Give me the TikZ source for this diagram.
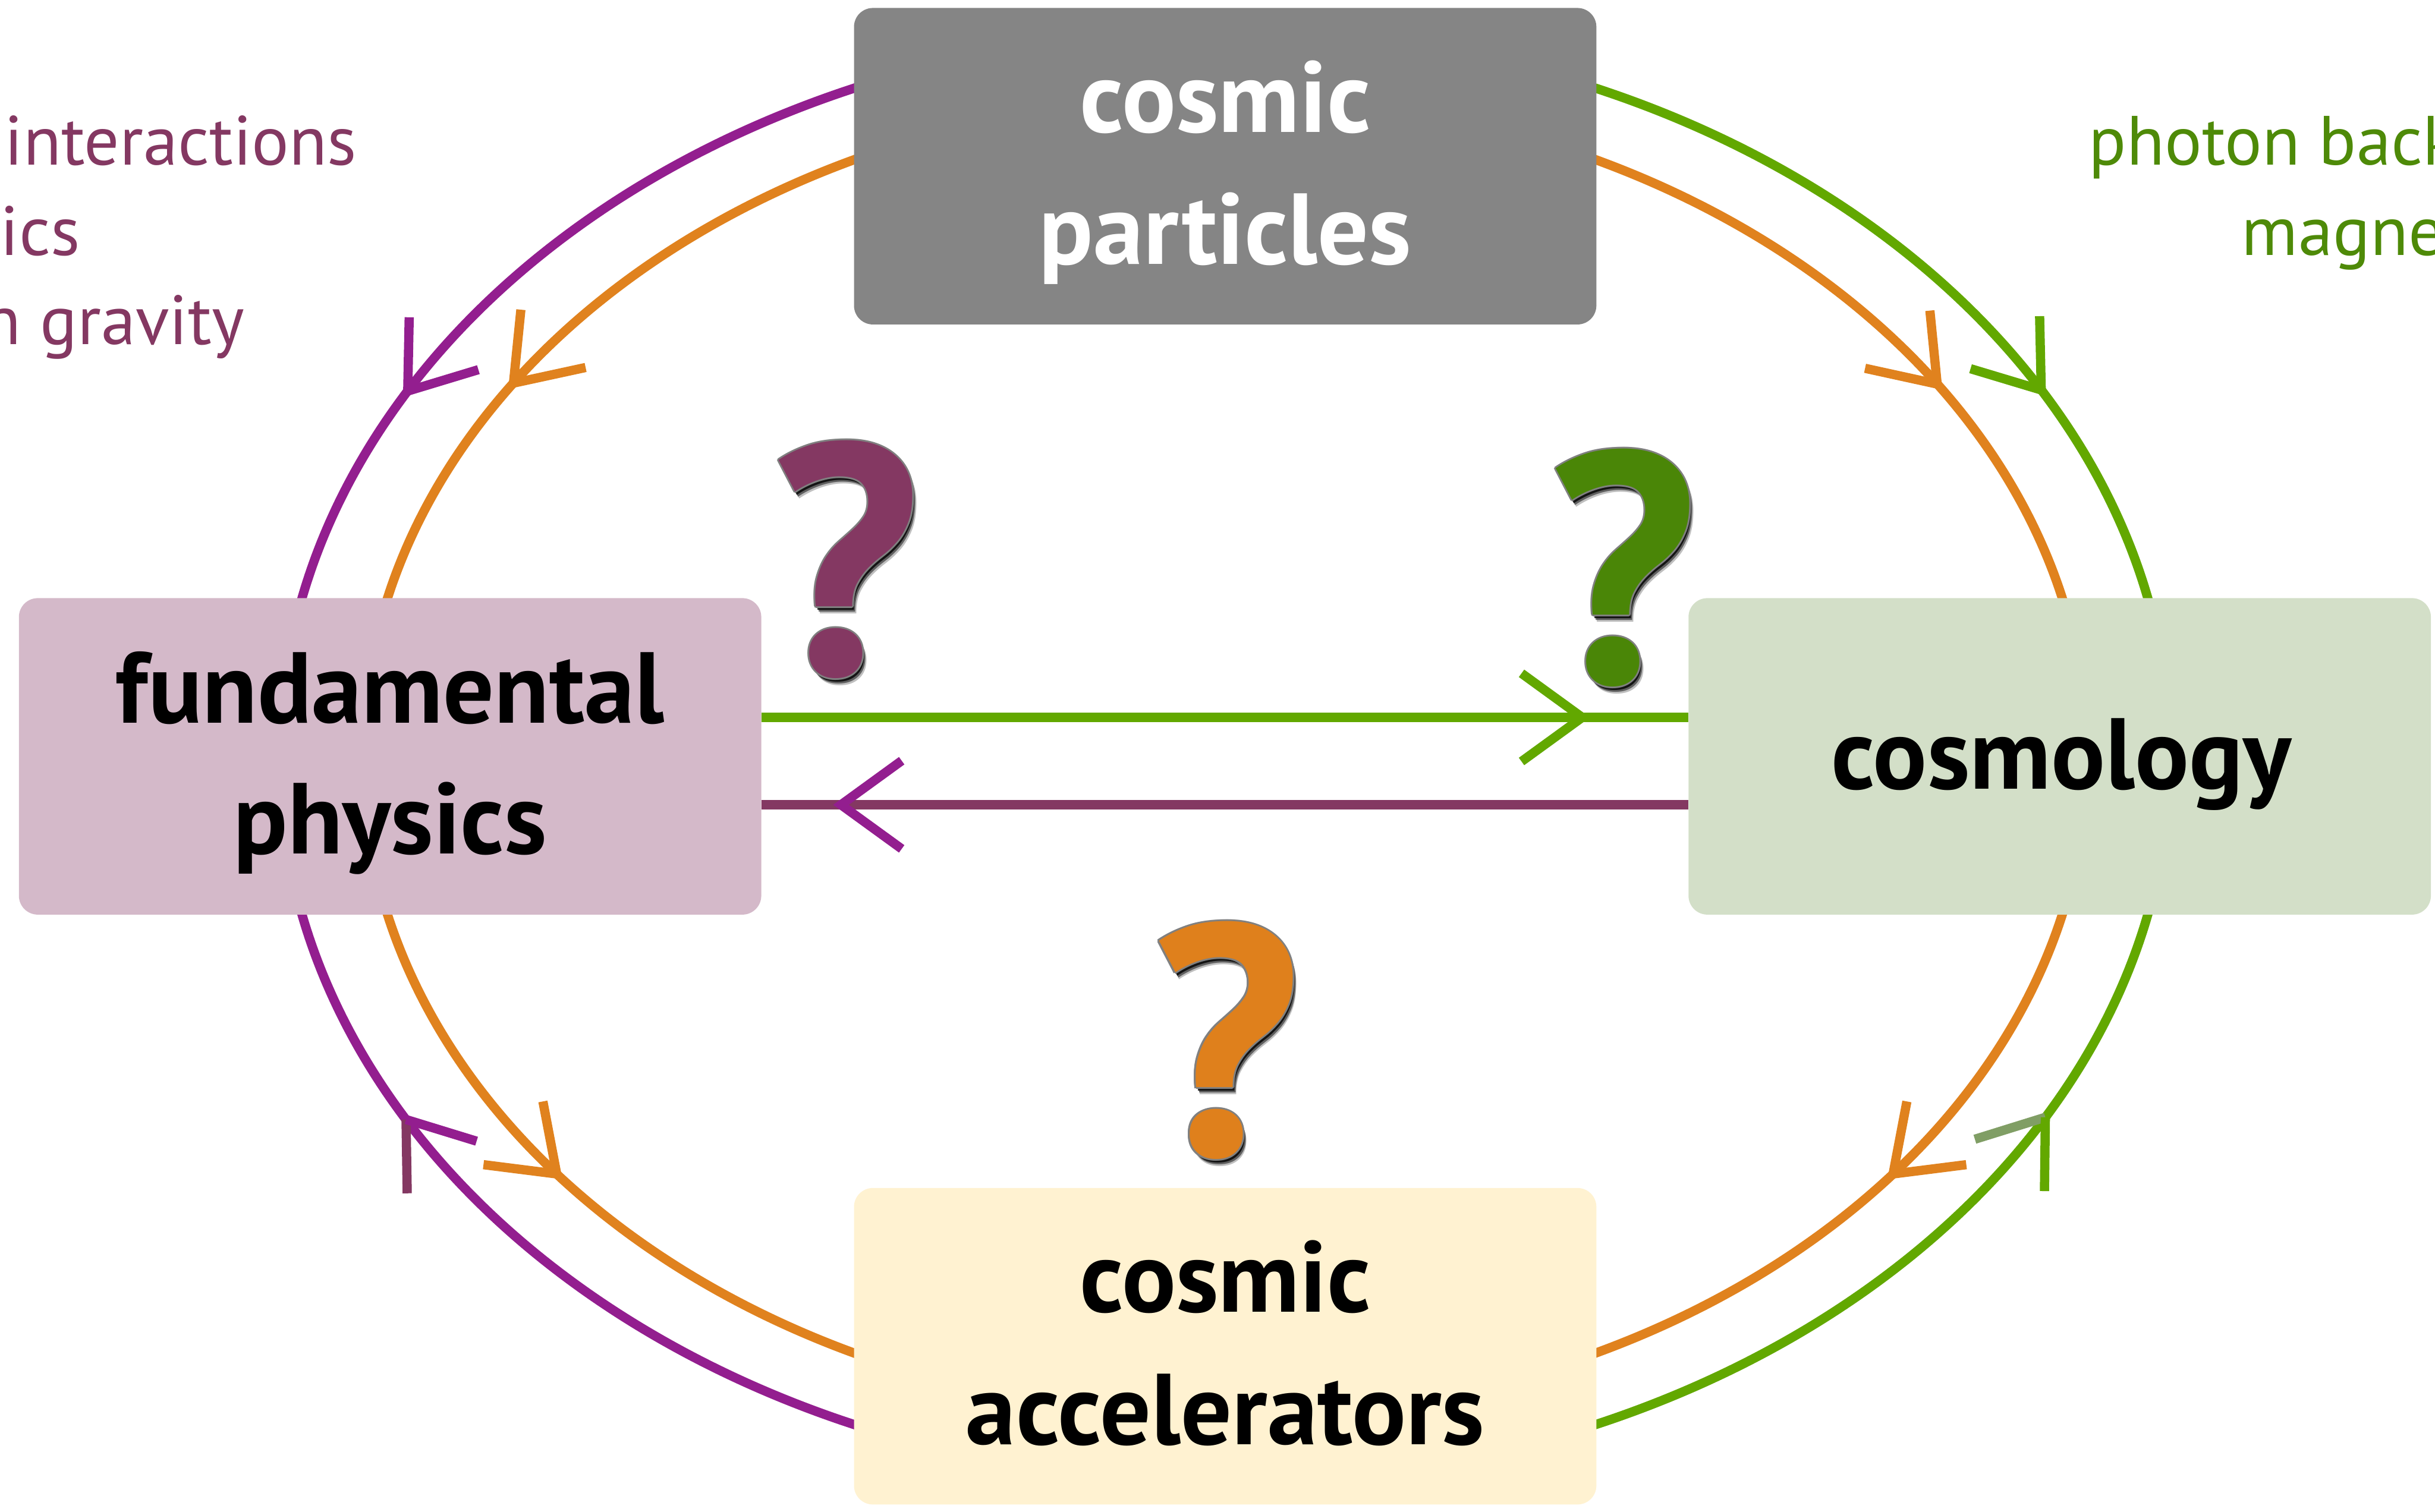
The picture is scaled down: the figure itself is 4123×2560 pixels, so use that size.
\documentclass[tikz,border=0pt]{standalone}
\usepackage{fontspec}
\setmainfont{PT Sans}
\usetikzlibrary{calc}
\definecolor{purp}{HTML}{931E8F}
\definecolor{maroon}{HTML}{843862}
\definecolor{orng}{HTML}{E0821E}
\definecolor{grn}{HTML}{62A800}
\definecolor{dgrn}{HTML}{4E8A08}
\definecolor{ggrey}{HTML}{809E65}
\definecolor{qgray}{HTML}{808080}
\definecolor{topfill}{HTML}{858585}
\definecolor{leftfill}{HTML}{D4B9C9}
\definecolor{rightfill}{HTML}{D3DFC8}
\definecolor{botfill}{HTML}{FFF2D1}
\definecolor{qgreen}{HTML}{4A8607}
\definecolor{qorange}{HTML}{DF801C}
\tikzset{
 box/.style={rounded corners=8pt, minimum width=314.25pt, minimum height=134pt, inner sep=0pt, draw=none},
 lbl/.style={font=\fontsize{42.7}{50}\selectfont\bfseries, anchor=base, inner sep=0pt},
 side/.style={font=\fontsize{29.5}{36}\selectfont, anchor=base west, inner sep=0pt},
 qm/.style={font=\fontsize{139}{139}\selectfont\bfseries, anchor=base, inner sep=0pt},
 loop/.style={line width=3.9pt},
 hline/.style={line width=4.1pt},
 barb/.style={line width=3.9pt, line join=miter, line cap=butt},
}
% chevron: x, y, direction (image angle), colour
\newcommand\chev[4]{%
  \coordinate (tipc) at (#1,#2);
  \draw[barb, draw=#4] ($(tipc)+({#3+216}:127)$) -- (tipc) -- ($(tipc)+({#3+144}:127)$);
}
% two coloured chevron: x, y, dir, colour A (drawn first), colour B
\newcommand\chevtwo[5]{%
  \coordinate (tipc) at (#1,#2);
  \draw[barb, draw=#4] ($(tipc)+({#3+216}:125)$) -- (tipc);
  \draw[barb, draw=#5] ($(tipc)+({#3+144}:125)$) -- (tipc);
}
% arrow on ellipse: a, b, theta, sense, colour A, colour B
\newcommand\ellarr[6]{%
  \pgfmathsetmacro\ex{2074+#1*cos(#3)}%
  \pgfmathsetmacro\ey{1281+#2*sin(#3)}%
  \pgfmathsetmacro\ea{atan2(#4*#2*cos(#3), -#4*#1*sin(#3))}%
  \chevtwo{\ex}{\ey}{\ea}{#5}{#6}%
}
\newcommand\qmark[4]{%
  \node[qm, text=black, opacity=0.25] at (#2+7,#3+12) {?};
  \node[qm, text=black, opacity=0.5] at (#2+5,#3+9) {?};
  \node[qm, text=black, opacity=0.8] at (#2+3,#3+6) {?};
  \foreach \an in {0,45,...,315} {\node[qm, text=qgray, shift={(\an:3)}] at (#2,#3) {?};}
  \node[qm, text=#4] (#1) at (#2,#3) {?};
}
\begin{document}
\begin{tikzpicture}[x=0.25pt, y=-0.25pt]
\useasboundingbox (0,0) rectangle (4123,2560);
\fill[white] (0,0) rectangle (4123,2560);
% loops
\draw[loop, orng] (2074,1281) ellipse[x radius=1460, y radius=1119];
\draw[loop, purp] (2074,1281) ++(-95:1601 and 1230) arc[start angle=-95, end angle=-175, x radius=1601, y radius=1230];
\draw[loop, purp] (2074,1281) ++(95:1601 and 1230) arc[start angle=95, end angle=175, x radius=1601, y radius=1230];
\draw[loop, grn] (2074,1281) ++(-85:1601 and 1230) arc[start angle=-85, end angle=-5, x radius=1601, y radius=1230];
\draw[loop, grn] (2074,1281) ++(85:1601 and 1230) arc[start angle=85, end angle=5, x radius=1601, y radius=1230];
% arrowheads on loops
\ellarr{1601}{1230}{-149.8}{-1}{purp}{purp}
\ellarr{1460}{1119}{-145.6}{-1}{orng}{orng}
\ellarr{1460}{1119}{-34.3}{1}{orng}{orng}
\ellarr{1601}{1230}{-30.3}{1}{grn}{grn}
\ellarr{1601}{1230}{150}{1}{maroon}{purp}
\ellarr{1460}{1119}{140.8}{-1}{orng}{orng}
\ellarr{1460}{1119}{39.2}{1}{orng}{orng}
\ellarr{1601}{1230}{29.8}{-1}{ggrey}{grn}
% boxes
\node[box, fill=topfill] (top) at (2074.5,281.5) {};
\node[box, fill=leftfill] (left) at (660.5,1281) {};
\node[box, fill=rightfill] (right) at (3487.5,1281) {};
\node[box, fill=botfill] (bot) at (2074.5,2280) {};
\node[lbl, text=white] (t1) at (2074.5,224) {cosmic};
\node[lbl, text=white] (t2) at (2074.5,447) {particles};
\node[lbl] (l1) at (660.5,1225) {fundamental};
\node[lbl] (l2) at (660.5,1446) {physics};
\node[lbl] (r1) at (3490,1336) {cosmology};
\node[lbl] (b1) at (2074.5,2222) {cosmic};
\node[lbl] (b2) at (2074.5,2446) {accelerators};
% horizontal connectors
\draw[hline, grn] ([yshift=16.5pt]left.east) -- ([yshift=16.5pt]right.west);
\draw[hline, maroon] ([yshift=-20.5pt]right.west) -- ([yshift=-20.5pt]left.east);
\chev{2679}{1215}{0}{grn}
\chev{1424}{1363}{180}{purp}
% question marks
\qmark{q1}{1432}{1143}{maroon}
\qmark{q2}{2748}{1157}{qgreen}
\qmark{q3}{2076}{1957}{qorange}
% side texts
\node[side, text=maroon] (s1) at (7,279) {interactions};
\node[side, text=maroon] (s2) at (0,432) {ics};
\node[side, text=maroon] (s3) at (-29,583) {n gravity};
\node[side, text=dgrn] (s4) at (3536,279) {photon back};
\node[side, text=dgrn] (s5) at (3795,432) {magne};
\end{tikzpicture}
\end{document}
